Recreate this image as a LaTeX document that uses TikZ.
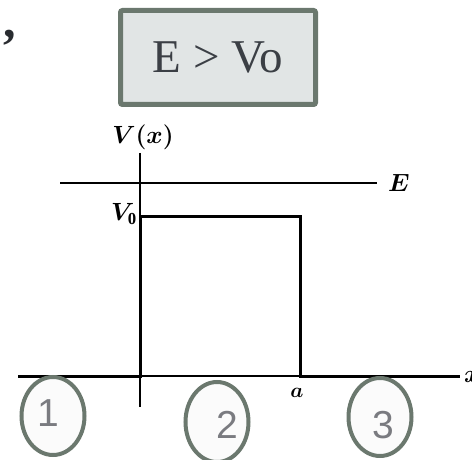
\documentclass[tikz,border=0pt]{standalone}
\usepackage{fontspec}
\setmainfont{Liberation Serif}
\newfontfamily\digitfont{Liberation Sans}
\usetikzlibrary{shapes.geometric}
\definecolor{frame}{HTML}{6B786E}
\definecolor{boxfill}{HTML}{E1E5E5}
\definecolor{boxtext}{HTML}{3B3F45}
\definecolor{digit}{HTML}{7A7B80}
\tikzset{
  lbl/.style={inner sep=0pt, font=\fontsize{24}{26}\selectfont\boldmath},
  region/.style={ellipse, draw=frame, line width=4pt, fill=white!97!gray, minimum width=63pt, minimum height=78pt, inner sep=0pt},
  regionnum/.style={inner sep=0pt, text=digit, font=\digitfont\fontsize{39}{42}\selectfont},
  thickline/.style={line width=3pt, line join=miter},
  thinline/.style={line width=1.5pt}
}
\begin{document}
\begin{tikzpicture}[x=1pt,y=-1pt]
\clip (0,0) rectangle (472,460);
\useasboundingbox (0,0) rectangle (472,460);
% comma
\node[inner sep=0pt, anchor=base west, font=\bfseries\fontsize{50}{50}\selectfont, text=boxtext!70!black] (comma) at (3,38) {,};
% title box
\node[draw=frame, line width=5pt, fill=boxfill, rounded corners=2pt, minimum width=195pt, minimum height=94pt, text=boxtext, font=\fontsize{47}{50}\selectfont] (title) at (218,57.5) {E > Vo};
% coordinates
\coordinate (axtop) at (140,153);
\coordinate (axbot) at (140,407);
\coordinate (xl) at (18,376);
\coordinate (xr) at (460,376);
\coordinate (p0) at (140,376);
\coordinate (p1) at (140,216);
\coordinate (p2) at (300,216);
\coordinate (p3) at (300,376);
\coordinate (el) at (60,183);
\coordinate (er) at (377,183);
% axes
\draw[thinline] (axtop) -- (axbot);
\draw[thinline] (xl) -- (xr);
\draw[thinline] (el) -- (er);
% potential
\draw[thickline] (xl) -- (p0) -- (p1) -- (p2) -- (p3) -- (xr);
% labels
\node[lbl] (vx) at (143,137) {$V(x)$};
\node[lbl, anchor=east] (v0) at (137,214) {$V_{\mathrm{0}}$};
\node[lbl, anchor=west] (elab) at (388,183) {$E$};
\node[lbl, font=\fontsize{22}{24}\selectfont\boldmath] (alab) at (297,393) {$a$};
\node[lbl, anchor=west] (xlab) at (464,377) {$x$};
% regions
\node[region] (r1) at (53,416) {};
\node[regionnum] at (48,413) {1};
\node[region, minimum height=80pt] (r2) at (217,422) {};
\node[regionnum] at (227,425) {2};
\node[region] (r3) at (380,417) {};
\node[regionnum] at (383,425) {3};
\end{tikzpicture}
\end{document}
